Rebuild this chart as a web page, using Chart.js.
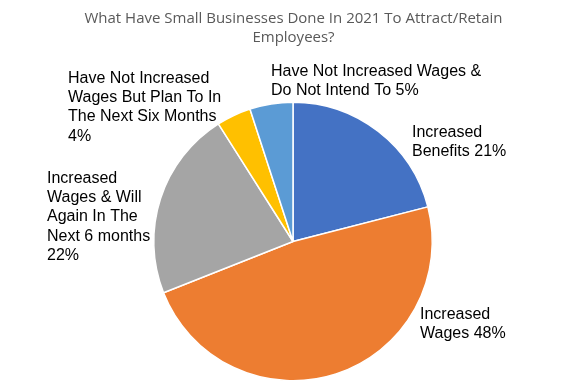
<!DOCTYPE html>
<html>
<head>
<meta charset="utf-8">
<script src="https://cdn.jsdelivr.net/npm/chart.js@4"></script>
<style>
    html, body { margin: 0; padding: 0; background: #fff; }
    #wrap { width: 587px; height: 391px; }
</style>
</head>
<body>
<div id="wrap"><canvas id="pieChart" width="587" height="391"></canvas></div>
<script>
const titleLines = ['What Have Small Businesses Done In 2021 To Attract/Retain', 'Employees?'];
const categories = [
    'Increased Benefits',
    'Increased Wages',
    'Increased Wages & Will Again In The Next 6 months',
    'Have Not Increased Wages But Plan To In The Next Six Months',
    'Have Not Increased Wages & Do Not Intend To'
];
const shares = [21, 48, 22, 4, 5];
const sliceColors = ['#4472C4', '#ED7D31', '#A5A5A5', '#FFC000', '#5B9BD5'];

// how each label wraps, and where its text block sits (offset from pie centre)
const labelLines = [
    ['Increased', 'Benefits 21%'],
    ['Increased', 'Wages 48%'],
    ['Increased', 'Wages & Will', 'Again In The', 'Next 6 months', '22%'],
    ['Have Not Increased', 'Wages But Plan To In', 'The Next Six Months', '4%'],
    ['Have Not Increased Wages &', 'Do Not Intend To 5%']
];
const labelOffsets = [
    [119, -105], [127, 77], [-246, -59], [-225, -159], [-22, -166]
];

const pieLabels = {
    id: 'pieLabels',
    afterDraw(chart) {
        const ctx = chart.ctx;
        ctx.save();
        // title
        ctx.fillStyle = '#595959';
        ctx.font = '15px "Open Sans"';
        ctx.textAlign = 'center';
        ctx.textBaseline = 'alphabetic';
        titleLines.forEach((t, i) => ctx.fillText(t, chart.width / 2, 23 + i * 18.7));

        // slice labels
        const arc = chart.getDatasetMeta(0).data[0];
        ctx.fillStyle = '#000';
        ctx.font = '16px "Liberation Sans", Arial, sans-serif';
        ctx.textAlign = 'left';
        labelLines.forEach((lines, i) => {
            const x = arc.x + labelOffsets[i][0];
            const y = arc.y + labelOffsets[i][1];
            lines.forEach((l, j) => ctx.fillText(l, x, y + j * 19.4));
        });
        ctx.restore();
    }
};

const ctx = document.getElementById('pieChart').getContext('2d');
const pieChart = new Chart(ctx, {
    type: 'pie',
    data: {
        labels: categories,
        datasets: [{
            data: shares,
            backgroundColor: sliceColors,
            borderColor: '#ffffff',
            borderWidth: 1.5
        }]
    },
    options: {
        responsive: false,
        animation: false,
        layout: {
            padding: { top: 101, bottom: 9, left: 153, right: 154 }
        },
        plugins: {
            legend: { display: false },
            tooltip: { enabled: false }
        }
    },
    plugins: [pieLabels]
});
</script>
</body>
</html>
